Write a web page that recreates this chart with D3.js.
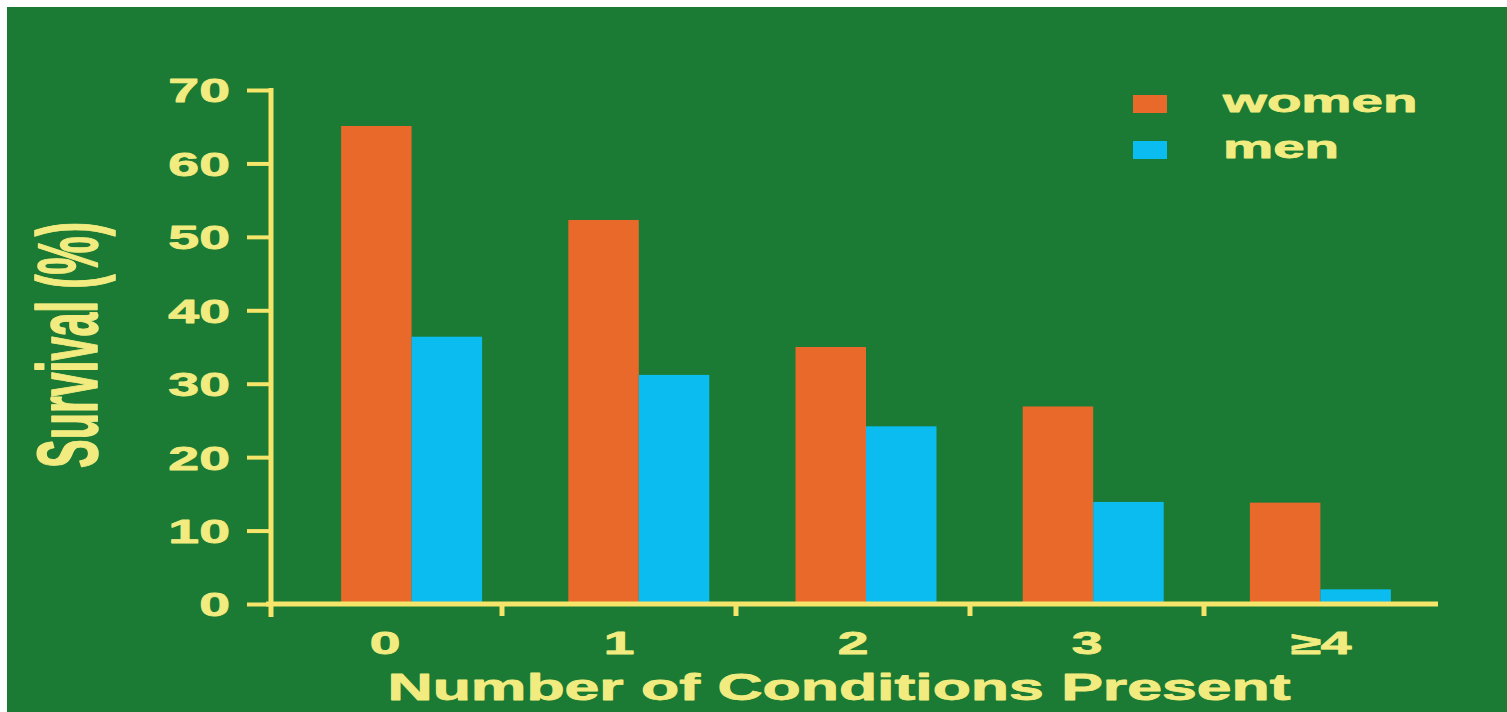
<!DOCTYPE html>
<html>
<head>
<meta charset="utf-8">
<script src="https://cdn.jsdelivr.net/npm/d3@7"></script>
<style>
  html, body { margin: 0; padding: 0; background: #ffffff; }
  svg { display: block; }
  text { font-family: "Liberation Sans", Arial, sans-serif; font-weight: bold; }
</style>
</head>
<body>
<svg id="chart" width="1507" height="712"></svg>
<script>
// ---- data ----
const categories = ["0", "1", "2", "3", "\u22654"];
const women = [65.1, 52.3, 35.0, 26.9, 13.8];
const men = [36.4, 31.2, 24.2, 13.9, 2.0];
const yTicks = [0, 10, 20, 30, 40, 50, 60, 70];
const seriesNames = ["women", "men"];
const xTitle = "Number of Conditions Present";
const yTitle = "Survival (%)";

// ---- style ----
const GREEN = "#1b7a33";
const ORANGE = "#e8692a";
const BLUE = "#0abcef";
const TEXT = "#f2ec80";
const AXIS = "#f5e56a";
const colors = { women: ORANGE, men: BLUE };

const svg = d3.select("#chart");
svg.append("rect").attr("x", 7).attr("y", 7).attr("width", 1500).attr("height", 705).attr("fill", GREEN);

// scales
const y = d3.scaleLinear().domain([0, 70]).range([604, 90]);
const xAxisScale = d3.scaleBand().domain(categories).range([268, 1438]).paddingInner(0).paddingOuter(0);
const xBars = d3.scaleBand().domain(categories).range([298, 1434]).paddingInner(0).paddingOuter(0);
const xSub = d3.scaleBand().domain(seriesNames).range([0, 141]);

function stretch(sel, factor) {
  sel.each(function () {
    const len = this.getComputedTextLength();
    d3.select(this).attr("textLength", len * factor).attr("lengthAdjust", "spacingAndGlyphs");
  });
}
function heavy(sel, w) {
  sel.attr("stroke", TEXT).attr("stroke-width", w).attr("stroke-linejoin", "round");
}

// bars
const rows = categories.map((c, i) => ({ cat: c, women: women[i], men: men[i] }));
const groups = svg.append("g").selectAll("g").data(rows).join("g")
  .attr("transform", d => `translate(${xBars(d.cat) + xBars.bandwidth() / 2 - xSub.range()[1] / 2},0)`);
groups.selectAll("rect").data(d => seriesNames.map(k => ({ key: k, value: d[k] }))).join("rect")
  .attr("x", d => xSub(d.key))
  .attr("width", xSub.bandwidth())
  .attr("y", d => y(d.value))
  .attr("height", d => y(0) - y(d.value))
  .attr("fill", d => colors[d.key]);

// y axis
const yAxis = svg.append("g").attr("transform", "translate(271,0)")
  .call(d3.axisLeft(y).tickValues(yTicks).tickSize(24).tickPadding(17));
yAxis.select(".domain").remove();
yAxis.selectAll(".tick line").attr("stroke", AXIS).attr("stroke-width", 4);
const yl = yAxis.selectAll(".tick text").attr("fill", TEXT).attr("font-size", 33)
  .attr("font-family", "Liberation Sans, Arial, sans-serif").attr("font-weight", "bold")
  .attr("dy", "0.36em");
stretch(yl, 1.68);
heavy(yl, 0.8);
svg.append("line").attr("x1", 271).attr("x2", 271).attr("y1", y(70) - 2).attr("y2", 617)
  .attr("stroke", AXIS).attr("stroke-width", 5);

// x axis
svg.append("line").attr("x1", 266).attr("x2", xAxisScale.range()[1]).attr("y1", y(0)).attr("y2", y(0))
  .attr("stroke", AXIS).attr("stroke-width", 5);
svg.append("g").selectAll("line").data(categories.slice(1)).join("line")
  .attr("x1", d => xAxisScale(d)).attr("x2", d => xAxisScale(d))
  .attr("y1", y(0)).attr("y2", y(0) + 12)
  .attr("stroke", AXIS).attr("stroke-width", 5);
const xl = svg.append("g").selectAll("text").data(categories).join("text")
  .attr("x", d => xAxisScale(d) + xAxisScale.bandwidth() / 2)
  .attr("y", 654)
  .attr("text-anchor", "middle")
  .attr("font-size", 31)
  .attr("fill", TEXT)
  .text(d => d);
stretch(xl, 1.78);
heavy(xl, 0.8);

// x title
const xt = svg.append("text").attr("x", 839).attr("y", 700).attr("text-anchor", "middle")
  .attr("font-size", 36).attr("fill", TEXT)
  .attr("textLength", 903).attr("lengthAdjust", "spacingAndGlyphs")
  .text(xTitle);
heavy(xt, 0.8);

// y title
const yt = svg.append("text").attr("transform", "translate(97,345) rotate(-90) scale(1,2.0)")
  .attr("text-anchor", "middle").attr("font-size", 43).attr("fill", TEXT)
  .attr("textLength", 246).attr("lengthAdjust", "spacingAndGlyphs")
  .text(yTitle);
heavy(yt, 0.8);

// legend
const legendY = [104, 150];
const lg = svg.append("g").selectAll("g").data(seriesNames).join("g")
  .attr("transform", (d, i) => `translate(1133,${legendY[i]})`);
lg.append("rect").attr("x", 0).attr("y", -9).attr("width", 34).attr("height", 18).attr("fill", d => colors[d]);
const lt = lg.append("text").attr("x", 90).attr("y", 8).attr("font-size", 31).attr("fill", TEXT).text(d => d);
stretch(lt, 1.82);
heavy(lt, 0.8);
</script>
</body>
</html>
